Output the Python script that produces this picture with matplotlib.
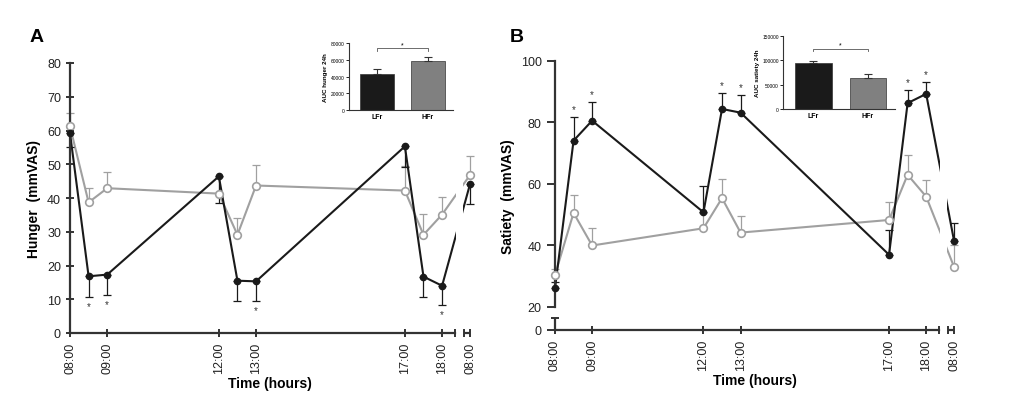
import matplotlib
matplotlib.use("Agg")
import matplotlib.pyplot as plt
import numpy as np

plt.rcParams['font.family'] = ['Liberation Sans', 'DejaVu Sans']

# time points, hours after 08:00 (last one is 08:00 next day, after the axis break)
hours = [0, 0.5, 1, 4, 4.5, 5, 9, 9.5, 10, 10.75]
tickHours = [0, 1, 4, 5, 9, 10, 10.75]
tickLabels = ["08:00", "09:00", "12:00", "13:00", "17:00", "18:00", "08:00"]

# panel A - hunger
hungerLF = [59.2, 16.8, 17.3, 46.4, 15.5, 15.3, 55.3, 16.7, 14.0, 44.1]
hungerLFerr = [4, 6.0, 6.0, 8.0, 5.9, 5.7, 6.0, 6.1, 5.6, 5.9]
hungerHF = [61.2, 38.7, 42.9, 41.3, 29.1, 43.7, 42.2, 29.1, 35.1, 46.8]
hungerHFerr = [4, 4.2, 4.9, 5.0, 5.0, 6.2, 7.4, 6.2, 5.1, 5.7]
hungerStars = [0.5, 1, 5, 10]

# panel B - satiety
satietyLF = [26.1, 74.1, 80.6, 50.8, 84.4, 83.2, 37.0, 86.3, 89.3, 41.6]
satietyLFerr = [2, 7.6, 6.0, 8.4, 5.2, 5.7, 8.0, 4.3, 3.8, 5.7]
satietyHF = [30.4, 50.6, 40.0, 45.6, 55.4, 44.2, 48.3, 63.0, 55.9, 33.1]
satietyHFerr = [2, 5.9, 5.7, 5.0, 6.2, 5.5, 5.7, 6.5, 5.5, 6.9]
satietyStars = [0.5, 1, 4.5, 5, 9.5, 10]

# insets - AUC 24h
groups = ["LFr", "HFr"]
aucHunger = [43000, 58100]
aucHungerErr = [6000, 4800]
aucSatiety = [94300, 64000]
aucSatietyErr = [4000, 8000]

blackC = "#1a1a1a"
grayC = "#a0a0a0"
axC = "#333333"

fig = plt.figure(figsize=(10.24, 4.06), dpi=100)
W, H = 1024, 406


def px_axes(l, t, r, b):
    return fig.add_axes([l / W, 1 - b / H, (r - l) / W, (b - t) / H])


def style_main(ax):
    for s in ["top", "right"]:
        ax.spines[s].set_visible(False)
    for s in ["left", "bottom"]:
        ax.spines[s].set_color(axC)
        ax.spines[s].set_linewidth(1.6)
    ax.tick_params(which="both", direction="inout", length=6, width=1.4,
                   color=axC, labelsize=9, labelcolor="#222222")
    ax.set_xlim(0, 10.75)
    ax.set_xticks(tickHours)
    ax.set_xticklabels(tickLabels, rotation=90)
    ax.set_xticks([10.35, 10.6], minor=True)
    ax.spines["bottom"].set_bounds(0, 10.35)
    ax.plot([10.6, 10.75], [0, 0], color=axC, lw=1.6, clip_on=False,
            transform=ax.get_xaxis_transform(), solid_capstyle="butt")
    ax.set_xlabel("Time (hours)", fontsize=10, fontweight="bold", labelpad=2)
    # gap in the lines at the axis break
    ax.axvspan(10.37, 10.56, ymin=0.01, color="white", zorder=3, lw=0)


def draw_series(ax, y, err, color, filled, up):
    y = np.array(y)
    err = np.array(err)
    zeros = np.zeros_like(err)
    yerr = [zeros, err] if up else [err, zeros]
    ax.errorbar(hours, y, yerr=yerr, fmt="none", ecolor=color, elinewidth=0.9,
                capsize=3, capthick=0.9, zorder=2, clip_on=False)
    ax.plot(hours, y, color=color, lw=1.5, zorder=2, clip_on=False)
    if filled:
        ax.plot(hours, y, "o", ms=4.5, mfc=color, mec=color, zorder=4, clip_on=False)
    else:
        ax.plot(hours, y, "o", ms=5.5, mfc="white", mec=color, mew=1.2, zorder=4, clip_on=False)


def inset(ax, vals, errs, top, ticks, label, bracketY, bracketDrop):
    x = np.arange(len(groups))
    ax.bar(x, vals, width=0.67, color=[blackC, "#808080"], edgecolor=axC, lw=0.5)
    ax.errorbar(x, vals, yerr=[[0, 0], errs], fmt="none", ecolor=axC,
                elinewidth=0.8, capsize=3, capthick=0.8)
    ax.set_xlim(-0.56, 1.5)
    ax.set_ylim(0, top)
    ax.set_yticks(ticks)
    ax.set_yticklabels([str(t) for t in ticks])
    ax.set_xticks(x)
    ax.set_xticklabels(groups, fontweight="bold")
    ax.tick_params(axis="y", labelsize=3.5, length=2, width=0.6, pad=1)
    ax.tick_params(axis="x", labelsize=5, length=0, pad=2)
    for s in ["top", "right"]:
        ax.spines[s].set_visible(False)
    for s in ["left", "bottom"]:
        ax.spines[s].set_linewidth(0.8)
        ax.spines[s].set_color(axC)
    ax.set_ylabel(label, fontsize=4.5, fontweight="bold", labelpad=2)
    ax.plot([0, 0, 1, 1], [bracketY - bracketDrop, bracketY, bracketY, bracketY - bracketDrop],
            color="#555555", lw=0.6)
    ax.text(0.5, bracketY, "*", ha="center", va="bottom", fontsize=5)


# ---- panel A ----
axA = px_axes(70, 64, 470, 334)
style_main(axA)
axA.set_ylim(0, 80)
axA.set_yticks(range(0, 81, 10))
axA.set_ylabel("Hunger  (mmVAS)", fontsize=10, fontweight="bold", labelpad=4)
draw_series(axA, hungerHF, hungerHFerr, grayC, False, True)
draw_series(axA, hungerLF, hungerLFerr, blackC, True, False)
for h in hungerStars:
    i = hours.index(h)
    axA.text(h, hungerLF[i] - hungerLFerr[i] - 1.2, "*", ha="center", va="top",
             fontsize=7, color=axC)

# ---- panel B ----
def fwd(y):
    y = np.asarray(y, float)
    return np.where(y >= 20, y, 20 - (20 - y) * 0.374)


def inv(y):
    y = np.asarray(y, float)
    return np.where(y >= 20, y, 20 - (20 - y) / 0.374)


axB = px_axes(555, 62, 954, 331)
style_main(axB)
axB.set_yscale("function", functions=(fwd, inv))
axB.set_ylim(0, 100)
axB.set_yticks(range(0, 101, 20))
axB.set_yticks([10.4], minor=True)
axB.tick_params(axis="y", which="major", direction="out")
axB.spines["left"].set_bounds(20, 100)
axB.plot([0, 0], [0, 10.4], color=axC, lw=1.6, clip_on=False,
         transform=axB.get_yaxis_transform(), solid_capstyle="butt")
axB.set_ylabel("Satiety  (mmVAS)", fontsize=10, fontweight="bold", labelpad=4)
draw_series(axB, satietyHF, satietyHFerr, grayC, False, True)
draw_series(axB, satietyLF, satietyLFerr, blackC, True, True)
for h in satietyStars:
    i = hours.index(h)
    axB.text(h, satietyLF[i] + satietyLFerr[i] + 1.0, "*", ha="center", va="bottom",
             fontsize=7, color=axC)

# ---- insets ----
insA = px_axes(349, 44, 453, 111)
inset(insA, aucHunger, aucHungerErr, 80000, [0, 20000, 40000, 60000, 80000],
      "AUC hunger 24h", 73700, 3000)
insB = px_axes(783, 37, 895, 110)
inset(insB, aucSatiety, aucSatietyErr, 150000, [0, 50000, 100000, 150000],
      "AUC satiety 24h", 123800, 5000)

fig.text(30 / W, 1 - 38 / H, "A", fontsize=14, fontweight="bold", va="center")
fig.text(510 / W, 1 - 38 / H, "B", fontsize=14, fontweight="bold", va="center")

fig.savefig("out.png", dpi=100)
